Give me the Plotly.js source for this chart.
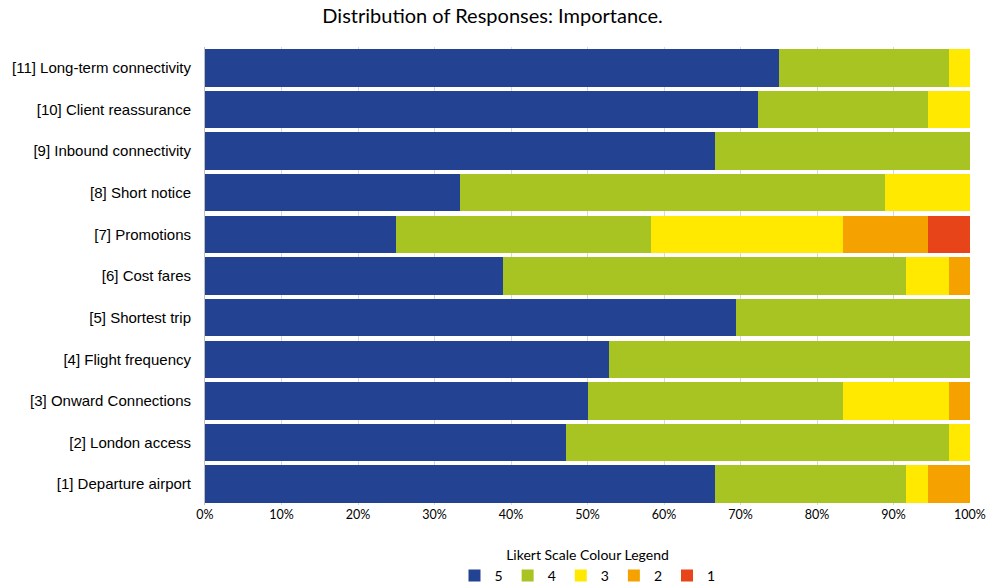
<!DOCTYPE html>
<html><head><meta charset="utf-8">
<script src="https://cdn.plot.ly/plotly-3.0.1.min.js"></script>
<style>html,body{margin:0;padding:0;background:#fff}#chart{width:991px;height:588px}</style>
</head><body><div id="chart"></div>
<script>
const categories = ["[1] Departure airport","[2] London access","[3] Onward Connections","[4] Flight frequency","[5] Shortest trip","[6] Cost fares","[7] Promotions","[8] Short notice","[9] Inbound connectivity","[10] Client reassurance","[11] Long-term connectivity"];
const score5 = [24,17,18,19,25,14,9,12,24,26,27];
const score4 = [9,18,12,17,11,19,12,20,12,8,8];
const score3 = [1,1,5,0,0,2,9,4,0,2,1];
const score2 = [2,0,1,0,0,1,4,0,0,0,0];
const score1 = [0,0,0,0,0,0,2,0,0,0,0];
const seriesNames = ["5","4","3","2","1"];
const colours = ["#234392","#A8C423","#FFE900","#F5A200","#E84419"];
const series = [score5, score4, score3, score2, score1];

const traces = series.map((vals, i) => ({
  type: "bar", orientation: "h", y: categories, x: vals,
  name: seriesNames[i], marker: {color: colours[i], line: {width: 0}},
  hoverinfo: "x+y+name"
}));

const layout = {
  width: 991, height: 588,
  barmode: "stack", barnorm: "percent", bargap: 0.1,
  paper_bgcolor: "#fff", plot_bgcolor: "#fff",
  margin: {l: 205, r: 21, t: 47, b: 83, autoexpand: false},
  title: {text: "Distribution of Responses: Importance.", x: 0.497, xref: "container", xanchor: "center", y: 0.973, yanchor: "middle",
          font: {family: "Lato, 'Open Sans', sans-serif", size: 20, color: "#000"}},
  xaxis: {range: [0, 100], dtick: 10, ticksuffix: "%", showgrid: true, gridcolor: "#d9d9d9", gridwidth: 1,
          zeroline: false, showline: false, ticks: "", fixedrange: true, tickangle: 0, automargin: false,
          tickfont: {family: "Lato, 'Open Sans', sans-serif", size: 12.5, color: "#000"}},
  yaxis: {type: "category", showgrid: false, zeroline: false, showline: true, linecolor: "#bfbfbf", linewidth: 1,
          ticks: "", ticklen: 0, automargin: false, ticklabelstandoff: 10,
          tickfont: {family: "'Liberation Sans', Arial, sans-serif", size: 15, color: "#000"}},
  showlegend: true,
  legend: {orientation: "h", x: 0.5, xanchor: "center", y: -0.08, yanchor: "top", traceorder: "normal",
           title: {text: "Likert Scale Colour Legend", side: "top center", font: {family: "Lato, 'Open Sans', sans-serif", size: 14, color: "#000"}},
           font: {family: "Lato, 'Open Sans', sans-serif", size: 14, color: "#000"},
           itemwidth: 30, tracegroupgap: 0, bgcolor: "rgba(0,0,0,0)"}
};
Plotly.newPlot("chart", traces, layout, {displayModeBar: false, staticPlot: true});
</script></body></html>
